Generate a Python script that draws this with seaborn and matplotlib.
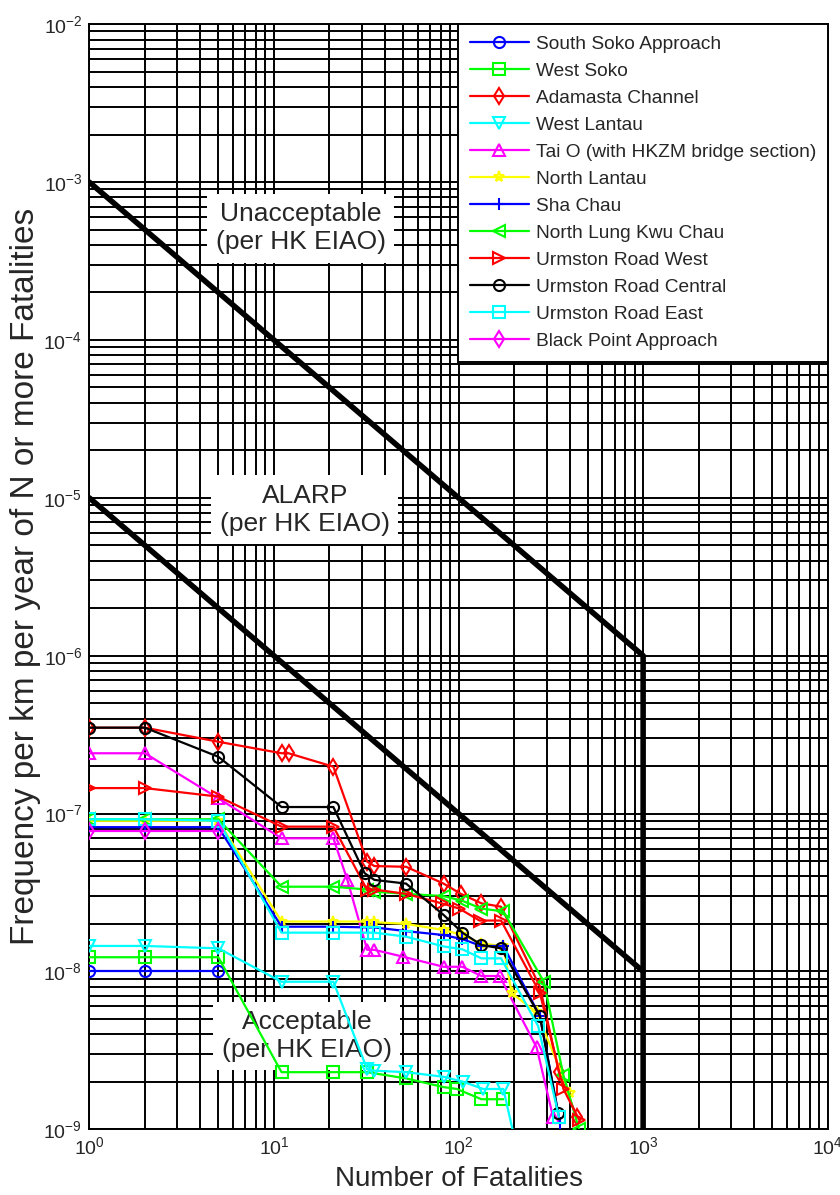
import numpy as np
import pandas as pd
import seaborn as sns
import matplotlib.pyplot as plt
from matplotlib.ticker import LogLocator, NullFormatter

# FN curves (N = number of fatalities, F = frequency per km per year)
south_soko_n = [1, 2, 5]
south_soko_f = [1.0e-8, 1.0e-8, 1.0e-8]

west_soko_n = [1, 2, 5, 11, 21, 32, 52, 83, 98, 133, 175]
west_soko_f = [1.23e-8, 1.23e-8, 1.23e-8, 2.3e-9, 2.3e-9, 2.3e-9, 2.1e-9, 1.85e-9, 1.8e-9, 1.55e-9, 1.55e-9]

adamasta_n = [1, 2, 5, 11, 12, 21, 32, 35, 52, 83, 103, 133, 170, 276, 350, 437]
adamasta_f = [3.5e-7, 3.5e-7, 2.85e-7, 2.41e-7, 2.41e-7, 1.98e-7, 4.96e-8, 4.65e-8, 4.6e-8,
              3.6e-8, 3.1e-8, 2.7e-8, 2.57e-8, 8.0e-9, 2.3e-9, 1.2e-9]

west_lantau_n = [1, 2, 5, 11, 21, 32, 35, 52, 83, 106, 136, 175, 210]
west_lantau_f = [1.45e-8, 1.45e-8, 1.4e-8, 8.6e-9, 8.6e-9, 2.4e-9, 2.35e-9, 2.3e-9, 2.15e-9,
                 2.0e-9, 1.8e-9, 1.8e-9, 7e-10]

tai_o_n = [1, 2, 5, 11, 21, 25, 32, 35, 50, 83, 105, 133, 167, 265, 325]
tai_o_f = [2.41e-7, 2.41e-7, 1.25e-7, 6.97e-8, 6.97e-8, 3.8e-8, 1.37e-8, 1.37e-8, 1.24e-8,
           1.07e-8, 1.07e-8, 9.35e-9, 9.35e-9, 3.3e-9, 1.2e-9]

north_lantau_n = [1, 2, 5, 11, 21, 32, 35, 52, 83, 105, 133, 175, 194, 265, 400]
north_lantau_f = [9.0e-8, 9.0e-8, 9.0e-8, 2.07e-8, 2.07e-8, 2.07e-8, 2.05e-8, 2.0e-8, 1.83e-8,
                  1.7e-8, 1.5e-8, 1.45e-8, 7.3e-9, 5.5e-9, 1.7e-9]

sha_chau_n = [1, 2, 5, 11, 21, 32, 35, 52, 83, 105, 133, 175, 276, 355]
sha_chau_f = [8.2e-8, 8.2e-8, 8.2e-8, 1.92e-8, 1.92e-8, 1.9e-8, 1.9e-8, 1.8e-8, 1.7e-8,
              1.6e-8, 1.45e-8, 1.45e-8, 5.2e-9, 1.1e-9]

lung_kwu_n = [1, 2, 5, 11, 21, 32, 35, 52, 83, 105, 133, 175, 290, 370, 450]
lung_kwu_f = [9.2e-8, 9.2e-8, 9.2e-8, 3.44e-8, 3.44e-8, 3.3e-8, 3.2e-8, 3.1e-8, 3.0e-8,
              2.8e-8, 2.5e-8, 2.4e-8, 8.6e-9, 2.2e-9, 1.0e-9]

urm_west_n = [1, 2, 5, 11, 21, 32, 35, 52, 81, 101, 130, 170, 276, 370, 450]
urm_west_f = [1.45e-7, 1.45e-7, 1.28e-7, 8.26e-8, 8.26e-8, 3.28e-8, 3.3e-8, 3.1e-8, 2.7e-8,
              2.5e-8, 2.1e-8, 2.1e-8, 7.3e-9, 1.8e-9, 1.15e-9]

urm_central_n = [1, 2, 5, 11, 21, 31, 35, 52, 83, 105, 133, 170, 276, 346]
urm_central_f = [3.5e-7, 3.5e-7, 2.29e-7, 1.10e-7, 1.10e-7, 4.19e-8, 3.8e-8, 3.6e-8, 2.28e-8,
                 1.76e-8, 1.47e-8, 1.4e-8, 5.2e-9, 1.27e-9]

urm_east_n = [1, 2, 5, 11, 21, 32, 35, 52, 83, 105, 133, 170, 270, 350]
urm_east_f = [9.2e-8, 9.2e-8, 9.0e-8, 1.76e-8, 1.76e-8, 1.76e-8, 1.76e-8, 1.66e-8, 1.44e-8,
              1.38e-8, 1.21e-8, 1.21e-8, 4.5e-9, 1.2e-9]

black_point_n = [1, 2, 5]
black_point_f = [7.7e-8, 7.7e-8, 7.7e-8]

names = ['South Soko Approach', 'West Soko', 'Adamasta Channel', 'West Lantau',
         'Tai O (with HKZM bridge section)', 'North Lantau', 'Sha Chau',
         'North Lung Kwu Chau', 'Urmston Road West', 'Urmston Road Central',
         'Urmston Road East', 'Black Point Approach']
n_data = [south_soko_n, west_soko_n, adamasta_n, west_lantau_n, tai_o_n, north_lantau_n,
          sha_chau_n, lung_kwu_n, urm_west_n, urm_central_n, urm_east_n, black_point_n]
f_data = [south_soko_f, west_soko_f, adamasta_f, west_lantau_f, tai_o_f, north_lantau_f,
          sha_chau_f, lung_kwu_f, urm_west_f, urm_central_f, urm_east_f, black_point_f]
colors = ['#0000ff', '#00ff00', '#ff0000', '#00ffff', '#ff00ff', '#ffff00',
          '#0000ff', '#00ff00', '#ff0000', '#000000', '#00ffff', '#ff00ff']
markers = ['o', 's', 'd', 'v', '^', '*', '+', '<', '>', 'o', 's', 'd']

# HK EIAO risk guidelines
upper_n = [1, 1000, 1000]
upper_f = [1e-3, 1e-6, 1e-9]
lower_n = [1, 1000]
lower_f = [1e-5, 1e-8]

sns.set_style('white')
plt.rcParams['font.family'] = ['Liberation Sans', 'DejaVu Sans']
plt.rcParams['mathtext.default'] = 'regular'

fig = plt.figure(figsize=(8.4, 11.95), dpi=100)
ax = fig.add_axes([0.1063, 0.0550, 0.8791, 0.9247])

sns.lineplot(x=upper_n, y=upper_f, ax=ax, color='black', linewidth=4, sort=False,
             estimator=None, legend=False, zorder=3)
sns.lineplot(x=lower_n, y=lower_f, ax=ax, color='black', linewidth=4, sort=False,
             estimator=None, legend=False, zorder=3)

for name, n, f, c, m in zip(names, n_data, f_data, colors, markers):
    df = pd.DataFrame({'N': n, 'F': f})
    sns.lineplot(data=df, x='N', y='F', ax=ax, color=c, marker=m, label=name,
                 linewidth=1.6, markersize=8, markeredgecolor=c, markerfacecolor='none',
                 markeredgewidth=1.5, sort=False, estimator=None, zorder=4)

ax.set_xscale('log')
ax.set_yscale('log')
ax.set_xlim(1, 1e4)
ax.set_ylim(1e-9, 1e-2)
for axis in (ax.xaxis, ax.yaxis):
    axis.set_major_locator(LogLocator(base=10, numticks=20))
    axis.set_minor_locator(LogLocator(base=10, subs=np.arange(2, 10), numticks=200))
    axis.set_minor_formatter(NullFormatter())
ax.set_axisbelow(True)
ax.grid(True, which='both', color='black', linewidth=1.4)
ax.tick_params(which='both', length=0, labelsize=14, pad=5)
for s in ax.spines.values():
    s.set_color('black')
    s.set_linewidth(1.4)

box = dict(facecolor='white', edgecolor='none', pad=6)
ax.text(14.0, 5.1e-4, 'Unacceptable\n(per HK EIAO)', ha='center', va='center',
        fontsize=19, bbox=box, zorder=2)
ax.text(14.7, 8.4e-6, 'ALARP\n(per HK EIAO)', ha='center', va='center',
        fontsize=19, bbox=box, zorder=2)
ax.text(15.1, 3.9e-9, 'Acceptable\n(per HK EIAO)', ha='center', va='center',
        fontsize=19, bbox=box, zorder=2)

ax.set_xlabel('Number of Fatalities', fontsize=20, labelpad=6)
ax.set_ylabel('Frequency per km per year of N or more Fatalities', fontsize=24)
ax.yaxis.set_label_coords(-0.066, 0.5)

leg = ax.legend(loc='upper right', borderaxespad=0, fontsize=13.8, handlelength=3.1,
                labelspacing=0.5, frameon=True, fancybox=False, framealpha=1,
                edgecolor='black', borderpad=0.6, handletextpad=0.35)
leg.get_frame().set_linewidth(1.4)
leg.set_zorder(10)

fig.savefig('out.png', dpi=100)
